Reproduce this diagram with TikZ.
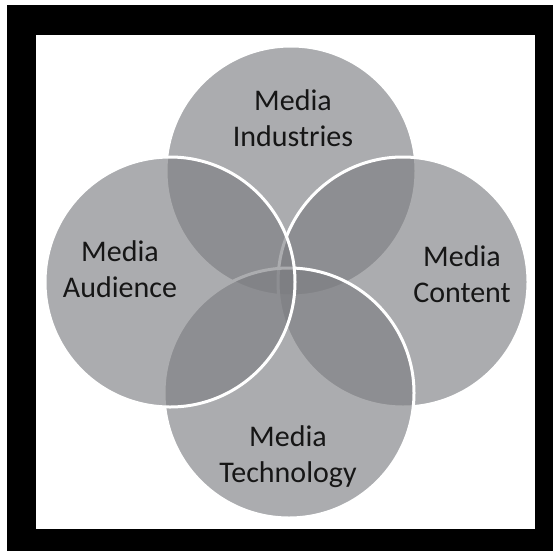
\documentclass[tikz,border=0pt]{standalone}
\usepackage{fontspec}
\setmainfont{Carlito}
\definecolor{venngray}{RGB}{125,126,130}
\definecolor{labelink}{RGB}{22,22,22}
\begin{document}
\begin{tikzpicture}[x=1pt,y=-1pt,
  venn/.style={circle, minimum size=250pt, inner sep=0pt,
    fill=venngray, fill opacity=0.64, draw=white, line width=3pt},
  lbl/.style={align=center, text=labelink, inner sep=0pt, anchor=base,
    font=\fontsize{30}{36}\selectfont}]
  % page, black frame and white panel
  \useasboundingbox (0,0) rectangle (553,551);
  \fill[white] (0,0) rectangle (553,551);
  \fill[black] (7,5) rectangle (553,551);
  \fill[white] (36,35) rectangle (535,529);

  % four overlapping circles, clockwise from the top
  \node[venn] (ind) at (291,171) {};
  \node[venn] (con) at (403,282) {};
  \node[venn] (tec) at (289,393) {};
  \node[venn] (aud) at (170,282) {};

  % labels (anchored at the baseline of the last line)
  \node[lbl] (tind) at (293,146) {Media\\Industries};
  \node[lbl] (taud) at (120,297) {Media\\Audience};
  \node[lbl] (tcon) at (462,302) {Media\\Content};
  \node[lbl] (ttec) at (288,482) {Media\\Technology};
\end{tikzpicture}
\end{document}
